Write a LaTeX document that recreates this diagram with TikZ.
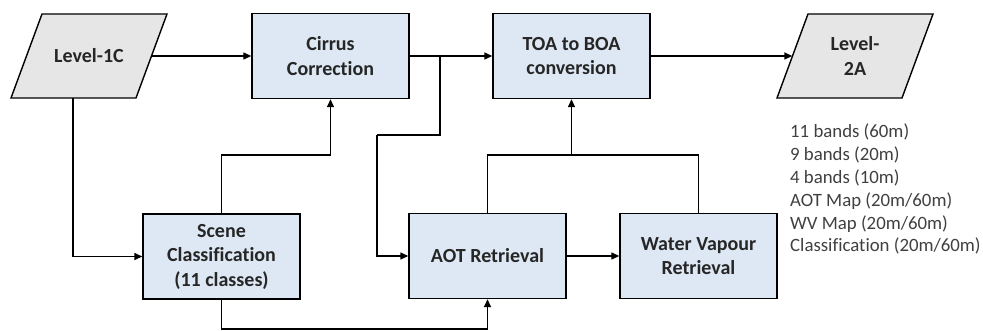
\documentclass[tikz,border=0pt]{standalone}
\usepackage{fontspec}
\setmainfont[Ligatures=NoCommon]{Carlito}
\usetikzlibrary{arrows.meta,calc}
\definecolor{boxblue}{HTML}{DEE8F4}
\definecolor{iogray}{HTML}{E6E6E6}
\definecolor{txtdark}{HTML}{262626}
\definecolor{txtgray}{HTML}{404040}
\tikzset{
  procbox/.style={draw=black, line width=1.4pt, fill=boxblue, minimum width=157pt, minimum height=85pt,
    align=center, inner sep=0pt, text=txtdark, font=\fontsize{20}{24.5}\selectfont\bfseries},
  iobox/.style={minimum width=125pt, minimum height=84pt, align=center, inner sep=0pt, text=txtdark,
    font=\fontsize{20}{24.5}\selectfont\bfseries},
  para/.style={draw=black, line width=1.4pt, fill=iogray},
  conn/.style={draw=black, line width=1.4pt},
  arr/.style={conn, -{Triangle[length=8pt,width=7pt]}},
}
\begin{document}
\begin{tikzpicture}[x=1pt,y=-1pt]
\useasboundingbox (0,0) rectangle (983,331);
% parallelogram outlines
\draw[para] (11,98) -- (136,98) -- (167,14) -- (42,14) -- cycle;
\draw[para] (777,98) -- (902,98) -- (933,14) -- (808,14) -- cycle;
\node[iobox] (l1c) at (89,56) {Level-1C};
\node[iobox] (l2a) at (855,56) {Level-\\2A};
\node[procbox] (cirrus) at (330.5,56) {Cirrus\\Correction};
\node[procbox] (toa) at (571.5,56) {TOA to BOA\\conversion};
\node[procbox] (scene) at (221.5,256.5) {Scene\\Classification\\(11 classes)};
\node[procbox] (aot) at (487.5,256) {AOT Retrieval};
\node[procbox] (wv) at (698.5,256) {Water Vapour\\Retrieval};
\node[anchor=north west, align=left, inner sep=0pt, text=txtgray,
  font=\fontsize{18.8}{22.8}\selectfont] (list) at (790,124)
  {11 bands (60m)\\9 bands (20m)\\4 bands (10m)\\AOT Map (20m/60m)\\WV Map (20m/60m)\\Classification (20m/60m)};
% junction coordinates
\coordinate (br) at (440,56);
\coordinate (brk) at (440,135);
\coordinate (brl) at (377,135);
\coordinate (scup) at (221.5,155);
\coordinate (sclow) at (221.5,329);
\coordinate (aotup) at (487.5,155);
\coordinate (toain) at (571.5,155);
\coordinate (l1cdown) at (73,98);
% connectors
\draw[arr] (l1c.east) -- (cirrus.west);
\draw[arr] (cirrus.east) -- (toa.west);
\draw[arr] (toa.east) -- (l2a.west);
\draw[arr] (l1cdown) |- (scene.west);
\draw[arr] (scene.north) -- (scup) -| (cirrus.south);
\draw[conn] (br) -- (brk) -- (brl);
\draw[arr] (brl) |- (aot.west);
\draw[arr] (scene.south) -- (sclow) -| (aot.south);
\draw[conn] (aot.north) -- (aotup) -| (wv.north);
\draw[arr] (toain) -- (toa.south);
\draw[arr] (aot.east) -- (wv.west);
\end{tikzpicture}
\end{document}
